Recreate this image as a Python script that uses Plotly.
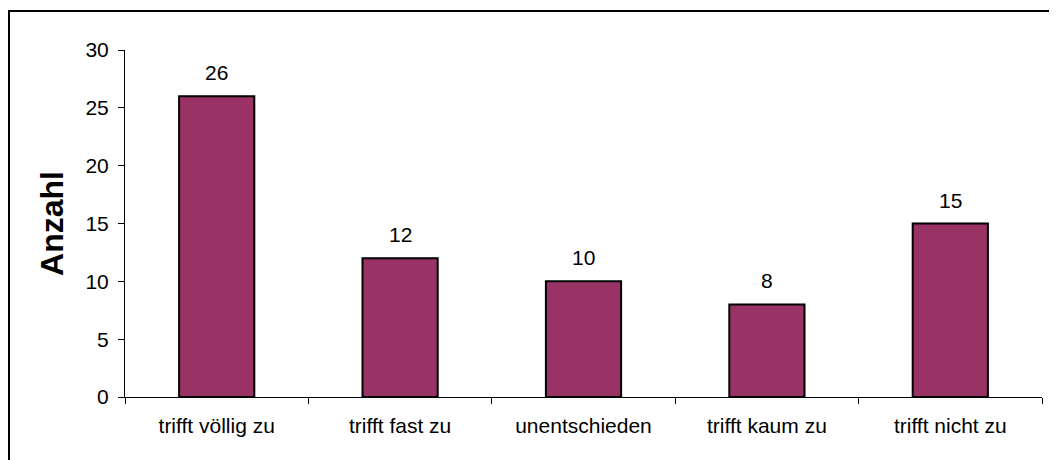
import plotly.graph_objects as go

categories = ["trifft völlig zu", "trifft fast zu", "unentschieden", "trifft kaum zu", "trifft nicht zu"]
values = [26, 12, 10, 8, 15]
y_ticks = [0, 5, 10, 15, 20, 25, 30]

FONT = "Liberation Sans, Arial, sans-serif"

W, H = 1049, 452
l, t = 117, 42
pw, ph = 917, 347
r, b = W - l - pw, H - t - ph

fig = go.Figure()
fig.add_trace(go.Bar(
    x=categories, y=values,
    marker=dict(color="#993366", line=dict(color="black", width=2)),
    width=0.41,
    hoverinfo="skip",
))

for c, v in zip(categories, values):
    fig.add_annotation(x=c, y=v, text=str(v), showarrow=False,
                       yanchor="bottom", yshift=10,
                       font=dict(family=FONT, size=21, color="black"))

# Frame (top and left lines, as in reference)
x0 = (1 - l) / pw
y1 = 1 + (t - 3) / ph
fig.add_shape(type="rect", xref="paper", yref="paper",
              x0=x0, x1=1.2, y0=-0.5, y1=y1,
              line=dict(color="black", width=2), layer="below")

fig.update_layout(
    width=W, height=H,
    margin=dict(l=l, r=r, t=t, b=b),
    plot_bgcolor="white", paper_bgcolor="white",
    showlegend=False,
    font=dict(family=FONT, size=21, color="black"),
    xaxis=dict(
        type="category", tickson="boundaries", ticks="outside", ticklen=6,
        tickcolor="black", showline=True, linecolor="black", linewidth=1,
        showgrid=False, tickfont=dict(size=21), ticklabelstandoff=10,
    ),
    yaxis=dict(
        range=[0, 30], tickvals=y_ticks, ticks="outside", ticklen=6,
        tickcolor="black", showline=True, linecolor="black", linewidth=1,
        showgrid=False, zeroline=False, tickfont=dict(size=21),
        ticklabelstandoff=5,
        title=dict(text="<b>Anzahl</b>", font=dict(size=32), standoff=12),
    ),
)

fig.write_html("out.html")
